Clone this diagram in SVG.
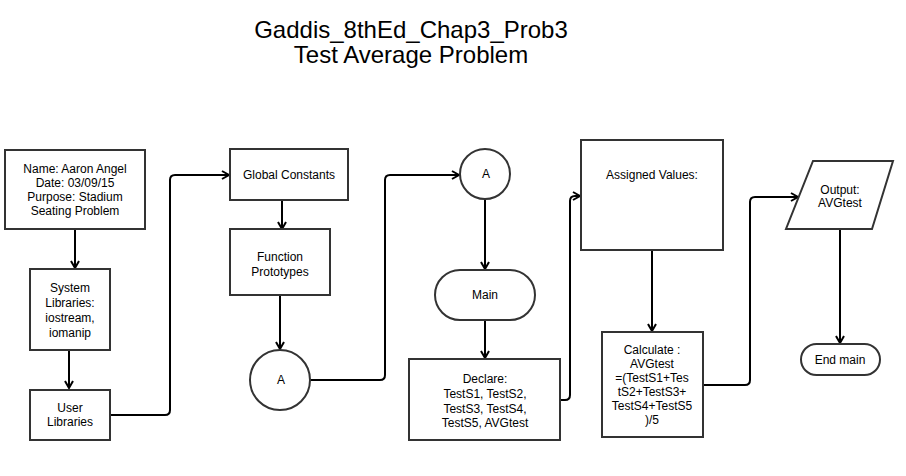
<svg xmlns="http://www.w3.org/2000/svg" width="906" height="476" viewBox="0 0 906 476">
<defs>
<marker id="arr" markerWidth="12" markerHeight="12" refX="9" refY="5" orient="auto" markerUnits="userSpaceOnUse">
<path d="M2,1 L9,5 L2,9" fill="none" stroke="#000" stroke-width="2"/>
</marker>
<style>
.n{fill:#fff;stroke:#333;stroke-width:2}
.t{font-family:"Liberation Sans",Arial,sans-serif;font-size:12px;fill:#000;text-anchor:middle}
.title{font-family:"Liberation Sans",Arial,sans-serif;font-size:24px;fill:#000;text-anchor:middle}
.c{fill:none;stroke:#000;stroke-width:2;marker-end:url(#arr)}
</style>
</defs>
<rect width="906" height="476" fill="#fff"/>
<g id="title">
<text class="title" x="411" y="38">Gaddis_8thEd_Chap3_Prob3</text>
<text class="title" x="411" y="63">Test Average Problem</text>
</g>
<g id="connectors">
<path class="c" d="M75,229 V268"/>
<path class="c" d="M69,350 V388"/>
<path class="c" d="M110,415 H165 Q170,415 170,410 V180 Q170,175 175,175 H229"/>
<path class="c" d="M282,200 V229"/>
<path class="c" d="M280,295 V349"/>
<path class="c" d="M310,380 H380 Q385,380 385,375 V180 Q385,175 390,175 H459"/>
<path class="c" d="M485,199 V269"/>
<path class="c" d="M485,320 V358"/>
<path class="c" d="M560,400 H565 Q570,400 570,395 V201 Q570,196 575,196 H580"/>
<path class="c" d="M652,250 V331"/>
<path class="c" d="M703,385 H745 Q750,385 750,380 V202 Q750,197 755,197 H798"/>
<path class="c" d="M840,229 V343"/>
</g>
<g id="info">
<rect class="n" x="5" y="150" width="140" height="79"/>
<text class="t" x="75" y="173">Name: Aaron Angel</text>
<text class="t" x="75" y="187">Date: 03/09/15</text>
<text class="t" x="75" y="201">Purpose: Stadium</text>
<text class="t" x="75" y="215">Seating Problem</text>
</g>
<g id="syslib">
<rect class="n" x="30" y="269" width="80" height="81"/>
<text class="t" x="70" y="292">System</text>
<text class="t" x="70" y="307">Libraries:</text>
<text class="t" x="70" y="322">iostream,</text>
<text class="t" x="70" y="337">iomanip</text>
</g>
<g id="userlib">
<rect class="n" x="30" y="390" width="80" height="50"/>
<text class="t" x="70" y="412">User</text>
<text class="t" x="70" y="426">Libraries</text>
</g>
<g id="globals">
<rect class="n" x="230" y="149" width="118" height="51"/>
<text class="t" x="289" y="179">Global Constants</text>
</g>
<g id="protos">
<rect class="n" x="230" y="229" width="100" height="66"/>
<text class="t" x="280" y="261">Function</text>
<text class="t" x="280" y="276">Prototypes</text>
</g>
<g id="connA1">
<circle class="n" cx="280" cy="380" r="30"/>
<text class="t" x="281" y="384">A</text>
</g>
<g id="connA2">
<circle class="n" cx="485" cy="174" r="25"/>
<text class="t" x="486" y="178">A</text>
</g>
<g id="main">
<rect class="n" x="435" y="270" width="100" height="50" rx="25" ry="25"/>
<text class="t" x="485" y="299">Main</text>
</g>
<g id="declare">
<rect class="n" x="409" y="359" width="151" height="81"/>
<text class="t" x="485" y="383">Declare:</text>
<text class="t" x="485" y="398">TestS1, TestS2,</text>
<text class="t" x="485" y="413">TestS3, TestS4,</text>
<text class="t" x="485" y="427">TestS5, AVGtest</text>
</g>
<g id="assigned">
<rect class="n" x="581" y="140" width="142" height="110"/>
<text class="t" x="652" y="179">Assigned Values:</text>
</g>
<g id="calculate">
<rect class="n" x="602" y="332" width="101" height="105"/>
<text class="t" x="652" y="354">Calculate :</text>
<text class="t" x="652" y="368">AVGtest</text>
<text class="t" x="652" y="382">=(TestS1+Tes</text>
<text class="t" x="652" y="396">tS2+TestS3+</text>
<text class="t" x="652" y="410">TestS4+TestS5</text>
<text class="t" x="652" y="424">)/5</text>
</g>
<g id="output">
<polygon class="n" points="813,161 893,161 872,229 786,229"/>
<text class="t" x="840" y="194">Output:</text>
<text class="t" x="840" y="207">AVGtest</text>
</g>
<g id="endmain">
<rect class="n" x="801" y="344" width="79" height="31" rx="15.5" ry="15.5"/>
<text class="t" x="840" y="364">End main</text>
</g>
</svg>
